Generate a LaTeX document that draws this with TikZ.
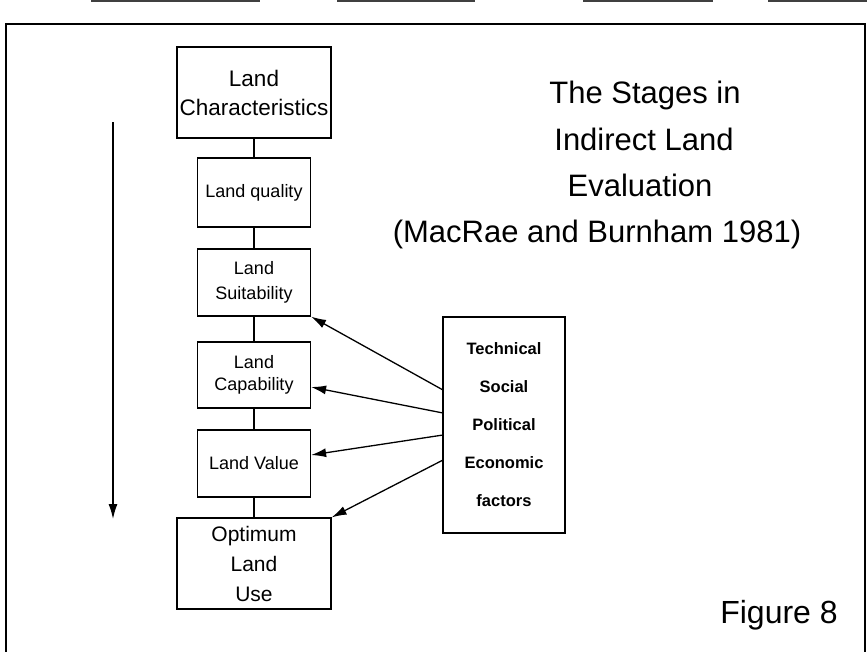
\documentclass[tikz,border=0pt]{standalone}
\usepackage{fontspec}
\setmainfont{Liberation Sans}
\usetikzlibrary{arrows.meta,calc}
\tikzset{
  stagebox/.style={draw, line width=1.2pt, align=center, inner sep=0pt},
  joinline/.style={line width=1.2pt},
  factorarrow/.style={line width=1.3pt, -{Latex[length=15pt,width=9pt]}},
  titletext/.style={font=\fontsize{31}{46}\selectfont, anchor=base},
}
\begin{document}
\begin{tikzpicture}[x=1pt,y=-1pt]
\useasboundingbox (0,0) rectangle (867,651);
% outer frame
\draw[line width=1.5pt] (6,660) -- (6,24) -- (865,24) -- (865,660);
\draw[line width=1.6pt, black!75] (91,1) -- (260,1) (337,1) -- (475,1) (583,1) -- (713,1) (768,1) -- (867,1);

% stage boxes
\node[stagebox, minimum width=154pt, minimum height=91pt, font=\fontsize{22.5}{29}\selectfont]
  (lc) at (254,92.5) {Land\\Characteristics};
\node[stagebox, minimum width=113pt, minimum height=69pt, font=\fontsize{18}{24}\selectfont]
  (lq) at (254,192.5) {Land quality};
\node[stagebox, minimum width=113pt, minimum height=67pt, font=\fontsize{18}{25}\selectfont]
  (ls) at (254,282.5) {Land\\Suitability};
\node[stagebox, minimum width=113pt, minimum height=66pt, font=\fontsize{18}{22}\selectfont]
  (lcap) at (254,375) {Land\\Capability};
\node[stagebox, minimum width=113pt, minimum height=67pt, font=\fontsize{18}{24}\selectfont]
  (lv) at (254,463.5) {Land Value};
\node[stagebox, minimum width=154pt, minimum height=91pt, font=\fontsize{21}{30}\selectfont]
  (olu) at (254,563.5) {Optimum\\Land\\Use};

% factors box
\node[stagebox, minimum width=122pt, minimum height=216pt, font=\bfseries\fontsize{16.5}{38}\selectfont]
  (fac) at (504,425) {Technical\\Social\\Political\\Economic\\factors};

% vertical joins
\draw[joinline] (lc.south) -- (lq.north);
\draw[joinline] (lq.south) -- (ls.north);
\draw[joinline] (ls.south) -- (lcap.north);
\draw[joinline] (lcap.south) -- (lv.north);
\draw[joinline] (lv.south) -- (olu.north);

% factor arrows
\coordinate (f1) at (443,390);
\coordinate (f2) at (443,413);
\coordinate (f3) at (443,435);
\coordinate (f4) at (443,460);
\draw[factorarrow] (f1) -- (ls.south east);
\draw[factorarrow] (f2) -- ($(lcap.east)+(0,12)$);
\draw[factorarrow] (f3) -- ($(lv.east)+(0,-8.5)$);
\draw[factorarrow] (f4) -- (olu.north east);

% left direction arrow
\coordinate (dtop) at (113,122);
\coordinate (dbot) at (113,519);
\draw[line width=1.3pt, -{Latex[length=15pt,width=9pt]}] (dtop) -- (dbot);

% title
\node[titletext] (t1) at (645,103) {The Stages in};
\node[titletext] (t2) at (644,150) {Indirect Land};
\node[titletext] (t3) at (640,196) {Evaluation};
\node[titletext] (t4) at (597,242) {(MacRae and Burnham 1981)};
\node[font=\fontsize{32}{38}\selectfont, anchor=base] (fig) at (779,623) {Figure 8};
\end{tikzpicture}
\end{document}
